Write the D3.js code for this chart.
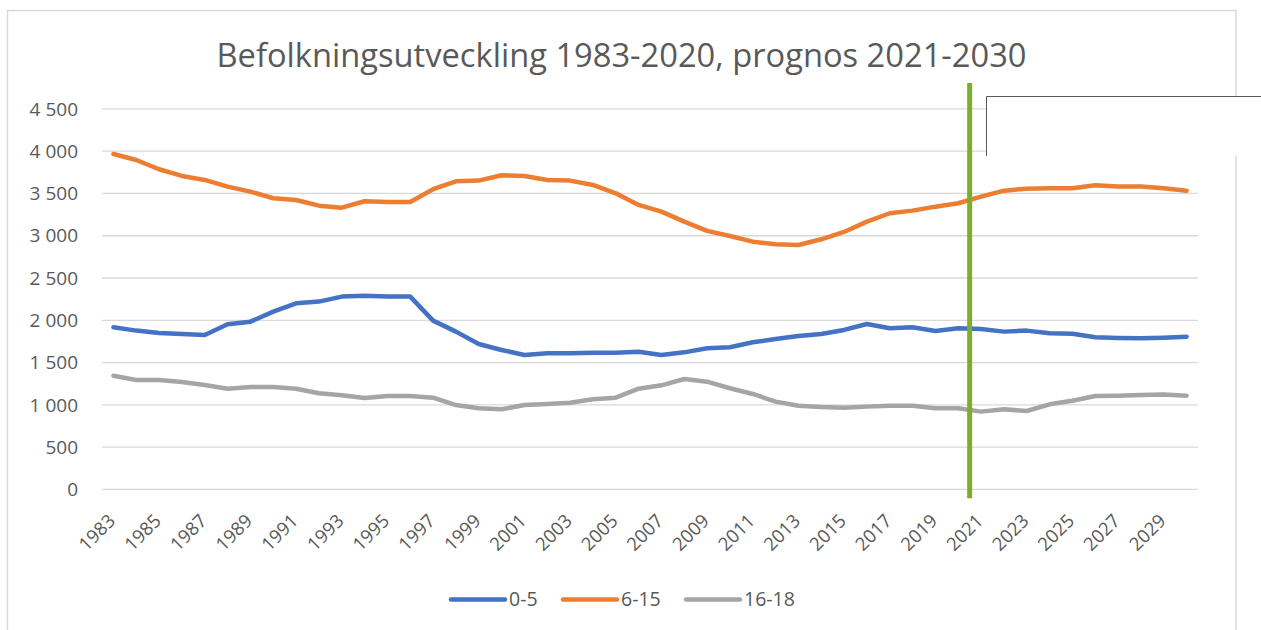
<!DOCTYPE html>
<html>
<head>
<meta charset="utf-8">
<script src="https://cdn.jsdelivr.net/npm/d3@7"></script>
<style>
  html, body { margin: 0; padding: 0; background: #ffffff; }
  svg { display: block; }
</style>
</head>
<body>
<svg id="chart" width="1261" height="630"></svg>
<script>
const years = [1983,1984,1985,1986,1987,1988,1989,1990,1991,1992,1993,1994,1995,1996,1997,1998,1999,
  2000,2001,2002,2003,2004,2005,2006,2007,2008,2009,2010,2011,2012,2013,2014,2015,2016,
  2017,2018,2019,2020,2021,2022,2023,2024,2025,2026,2027,2028,2029,2030];

const age0_5 = [1911,1872,1844,1832,1820,1947,1978,2096,2195,2215,2274,2285,2274,2274,1990,1860,1714,
  1643,1584,1604,1604,1611,1611,1623,1584,1615,1663,1675,1734,1773,1808,1832,1880,1950,
  1899,1911,1868,1899,1891,1860,1872,1840,1836,1793,1785,1781,1789,1800];

const age6_15 = [3961,3890,3780,3701,3654,3575,3516,3437,3417,3350,3326,3402,3394,3394,3544,3638,3646,
  3709,3701,3654,3646,3595,3496,3358,3279,3161,3051,2991,2924,2893,2885,2952,3039,3161,
  3260,3291,3338,3378,3456,3527,3551,3555,3555,3591,3575,3575,3555,3527];

const age16_18 = [1339,1288,1288,1264,1229,1185,1205,1205,1185,1131,1107,1075,1099,1099,1079,992,953,
  941,992,1004,1020,1060,1079,1185,1225,1300,1268,1190,1123,1032,984,969,961,973,
  984,984,953,953,914,941,921,1000,1043,1099,1103,1111,1115,1103];

const seriesNames = ["0-5", "6-15", "16-18"];
const seriesColors = ["#4472C4", "#ED7D31", "#A5A5A5"];
const yTicks = [0,500,1000,1500,2000,2500,3000,3500,4000,4500];
const xTickLabels = [1983,1985,1987,1989,1991,1993,1995,1997,1999,2001,2003,2005,2007,2009,2011,2013,2015,2017,2019,2021,2023,2025,2027,2029];
const forecastStartYear = 2021;
const markerRange = [-110, 4800];
const title = "Befolkningsutveckling 1983-2020, prognos 2021-2030";

const series = [age0_5, age6_15, age16_18].map((vals, i) => ({
  name: seriesNames[i], color: seriesColors[i],
  values: years.map((yr, j) => ({ year: yr, value: vals[j] }))
}));

const svg = d3.select("#chart");
const W = 1261, H = 630;
const plot = { left: 102, right: 1198, top: 108.4, bottom: 488.9 };
const textColor = "#595959";
const font = "'Open Sans', 'Liberation Sans', sans-serif";

svg.append("rect").attr("width", W).attr("height", H).attr("fill", "#fff");
// chart area border
svg.append("rect").attr("x", 7.5).attr("y", 10.5).attr("width", 1228.5).attr("height", 640)
  .attr("fill", "none").attr("stroke", "#d9d9d9").attr("stroke-width", 1.5);

const xBand = d3.scaleBand().domain(years).range([plot.left, plot.right]).padding(0);
const xPoint = d3.scalePoint().domain(years).range([plot.left, plot.right]).padding(0.5);
const y = d3.scaleLinear().domain([0, 4500]).range([plot.bottom, plot.top]);

const loc = d3.formatLocale({ decimal: ",", thousands: " ", grouping: [3], currency: ["", " kr"] });
const fmt = loc.format(",d");

// y axis with gridlines
const yAxis = svg.append("g").attr("transform", `translate(${plot.left},0)`)
  .call(d3.axisLeft(y).tickValues(yTicks).tickFormat(fmt)
    .tickSize(-(plot.right - plot.left)).tickPadding(24));
yAxis.select(".domain").remove();
yAxis.selectAll(".tick line").attr("stroke", "#d9d9d9").attr("stroke-width", 1.3);
yAxis.selectAll(".tick text").attr("fill", textColor).attr("font-family", font)
  .attr("font-size", 19).attr("dy", "0.35em");

// x axis labels
const xAxis = svg.append("g").attr("transform", `translate(0,522)`)
  .call(d3.axisBottom(xPoint).tickValues(xTickLabels).tickSize(0).tickPadding(0));
xAxis.select(".domain").remove();
xAxis.selectAll(".tick text").attr("fill", textColor).attr("font-family", font)
  .attr("font-size", 18.5).attr("text-anchor", "end")
  .attr("x", 2.6).attr("y", 0).attr("dy", 0)
  .attr("transform", "rotate(-45, 2.6, 0)");

// lines
const line = d3.line().x(d => xPoint(d.year)).y(d => y(d.value));
svg.append("g").selectAll("path").data(series).join("path")
  .attr("d", d => line(d.values))
  .attr("fill", "none").attr("stroke", d => d.color).attr("stroke-width", 4.5)
  .attr("stroke-linecap", "round").attr("stroke-linejoin", "round");

// forecast marker line
const mx = xBand(forecastStartYear);
svg.append("line").attr("x1", mx).attr("x2", mx)
  .attr("y1", y(markerRange[1])).attr("y2", y(markerRange[0]))
  .attr("stroke", "#7AAF29").attr("stroke-width", 5);

// empty text box overlay
svg.append("rect").attr("x", 986).attr("y", 96).attr("width", 300).attr("height", 60)
  .attr("fill", "#fff");
svg.append("path").attr("d", "M986.5,156 V96.5 H1261")
  .attr("fill", "none").attr("stroke", "#595959").attr("stroke-width", 1);

// title
svg.append("text").attr("x", 621.5).attr("y", 67).attr("text-anchor", "middle")
  .attr("fill", textColor).attr("font-family", font).attr("font-size", 32)
  .attr("textLength", 810).attr("lengthAdjust", "spacingAndGlyphs")
  .text(title);

// legend
const legendX = [451, 563, 686];
const lg = svg.append("g").selectAll("g").data(series).join("g")
  .attr("transform", (d, i) => `translate(${legendX[i]},599.5)`);
lg.append("line").attr("x1", 0).attr("x2", 54).attr("stroke", d => d.color)
  .attr("stroke-width", 4.5).attr("stroke-linecap", "round");
lg.append("text").attr("x", 58).attr("dy", "0.35em").attr("fill", textColor)
  .attr("font-family", font).attr("font-size", 19.5).text(d => d.name);
</script>
</body>
</html>
